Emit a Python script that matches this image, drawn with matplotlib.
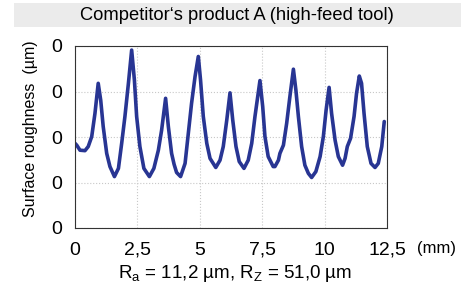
import matplotlib.pyplot as plt
from matplotlib.patches import Rectangle

plt.rcParams['font.family'] = ['Liberation Sans', 'DejaVu Sans']

# profile trace (mm, arbitrary height units)
x_mm = [0.0, 0.07, 0.2, 0.4, 0.53, 0.67, 0.80, 0.93, 1.03, 1.13, 1.27, 1.40,
        1.58, 1.74, 1.87, 2.0, 2.14, 2.27, 2.38, 2.47, 2.60, 2.76, 2.98, 3.16,
        3.34, 3.47, 3.63, 3.74, 3.87, 3.97, 4.07, 4.23, 4.41, 4.54, 4.67, 4.81,
        4.94, 5.03, 5.14, 5.28, 5.41, 5.64, 5.81, 5.94, 6.08, 6.21, 6.32, 6.45,
        6.58, 6.77, 6.94, 7.08, 7.21, 7.41, 7.52, 7.61, 7.74, 7.94, 8.01, 8.15,
        8.21, 8.35, 8.48, 8.61, 8.75, 8.85, 8.95, 9.08, 9.21, 9.35, 9.48, 9.65,
        9.82, 9.95, 10.06, 10.18, 10.28, 10.42, 10.55, 10.72, 10.82, 10.91,
        11.04, 11.18, 11.28, 11.39, 11.48, 11.58, 11.71, 11.86, 12.02, 12.15,
        12.29, 12.39]
height = [1.86, 1.82, 1.71, 1.70, 1.79, 2.01, 2.52, 3.18, 2.81, 2.23, 1.64, 1.35,
          1.13, 1.31, 1.86, 2.45, 3.18, 3.91, 3.25, 2.45, 1.79, 1.31, 1.13, 1.31,
          1.71, 2.15, 2.85, 2.23, 1.64, 1.40, 1.22, 1.13, 1.42, 2.08, 2.74, 3.33,
          3.77, 3.25, 2.45, 1.86, 1.53, 1.33, 1.49, 1.79, 2.37, 2.97, 2.37, 1.79,
          1.46, 1.31, 1.49, 1.86, 2.45, 3.24, 2.67, 2.01, 1.57, 1.35, 1.35, 1.49,
          1.64, 1.82, 2.30, 2.89, 3.49, 3.03, 2.45, 1.79, 1.38, 1.20, 1.11, 1.24,
          1.57, 2.01, 2.59, 3.09, 2.52, 1.93, 1.57, 1.38, 1.53, 1.79,
          1.97, 2.45, 2.96, 3.34, 3.18, 2.52, 1.79, 1.42, 1.33, 1.42,
          1.79, 2.34]

xticks = [0, 2.5, 5, 7.5, 10, 12.5]
xticklabels = ['0', '2,5', '5', '7,5', '10', '12,5']
yticks = [0, 1, 2, 3, 4]
yticklabels = ['0', '0', '0', '0', '0']

fig = plt.figure(figsize=(4.69, 2.87), dpi=100)
ax = fig.add_axes([75/469, 1-228/287, 312/469, 182/287])

# grey title band
fig.patches.append(Rectangle((14/469, 1-27/287), 447/469, 24/287,
                             transform=fig.transFigure, facecolor='#ebebeb',
                             edgecolor='none', zorder=0))
fig.text(237/469, 1-15/287, 'Competitor\u2018s product A (high-feed tool)',
         ha='center', va='center', fontsize=13.2)

ax.plot(x_mm, height, color='#283593', linewidth=2.6, solid_joinstyle='round',
        solid_capstyle='round')

ax.set_xlim(0, 12.5)
ax.set_ylim(0, 4)
ax.set_xticks(xticks)
ax.set_xticklabels(xticklabels, fontsize=14)
ax.set_yticks(yticks)
ax.set_yticklabels(yticklabels, fontsize=14)
ax.tick_params(axis='y', length=0, pad=9)
ax.tick_params(axis='x', length=0, pad=10)
ax.grid(True, color='#c8c8c8', linestyle=':', linewidth=0.8)
for s in ax.spines.values():
    s.set_color('#333333')
    s.set_linewidth(0.8)

fig.text(30/469, 1-129/287, 'Surface roughness  (\u00b5m)', rotation=90,
         ha='center', va='center', fontsize=11.5)
fig.text(436/469, 1-248/287, '(mm)', ha='center', va='center', fontsize=12)
fig.text(235/469, 1-273/287,
         'R$_\\mathregular{a}$ = 11,2 \u00b5m, R$_\\mathregular{Z}$ = 51,0 \u00b5m',
         ha='center', va='center', fontsize=13.5)

fig.savefig('out.png', dpi=100)
